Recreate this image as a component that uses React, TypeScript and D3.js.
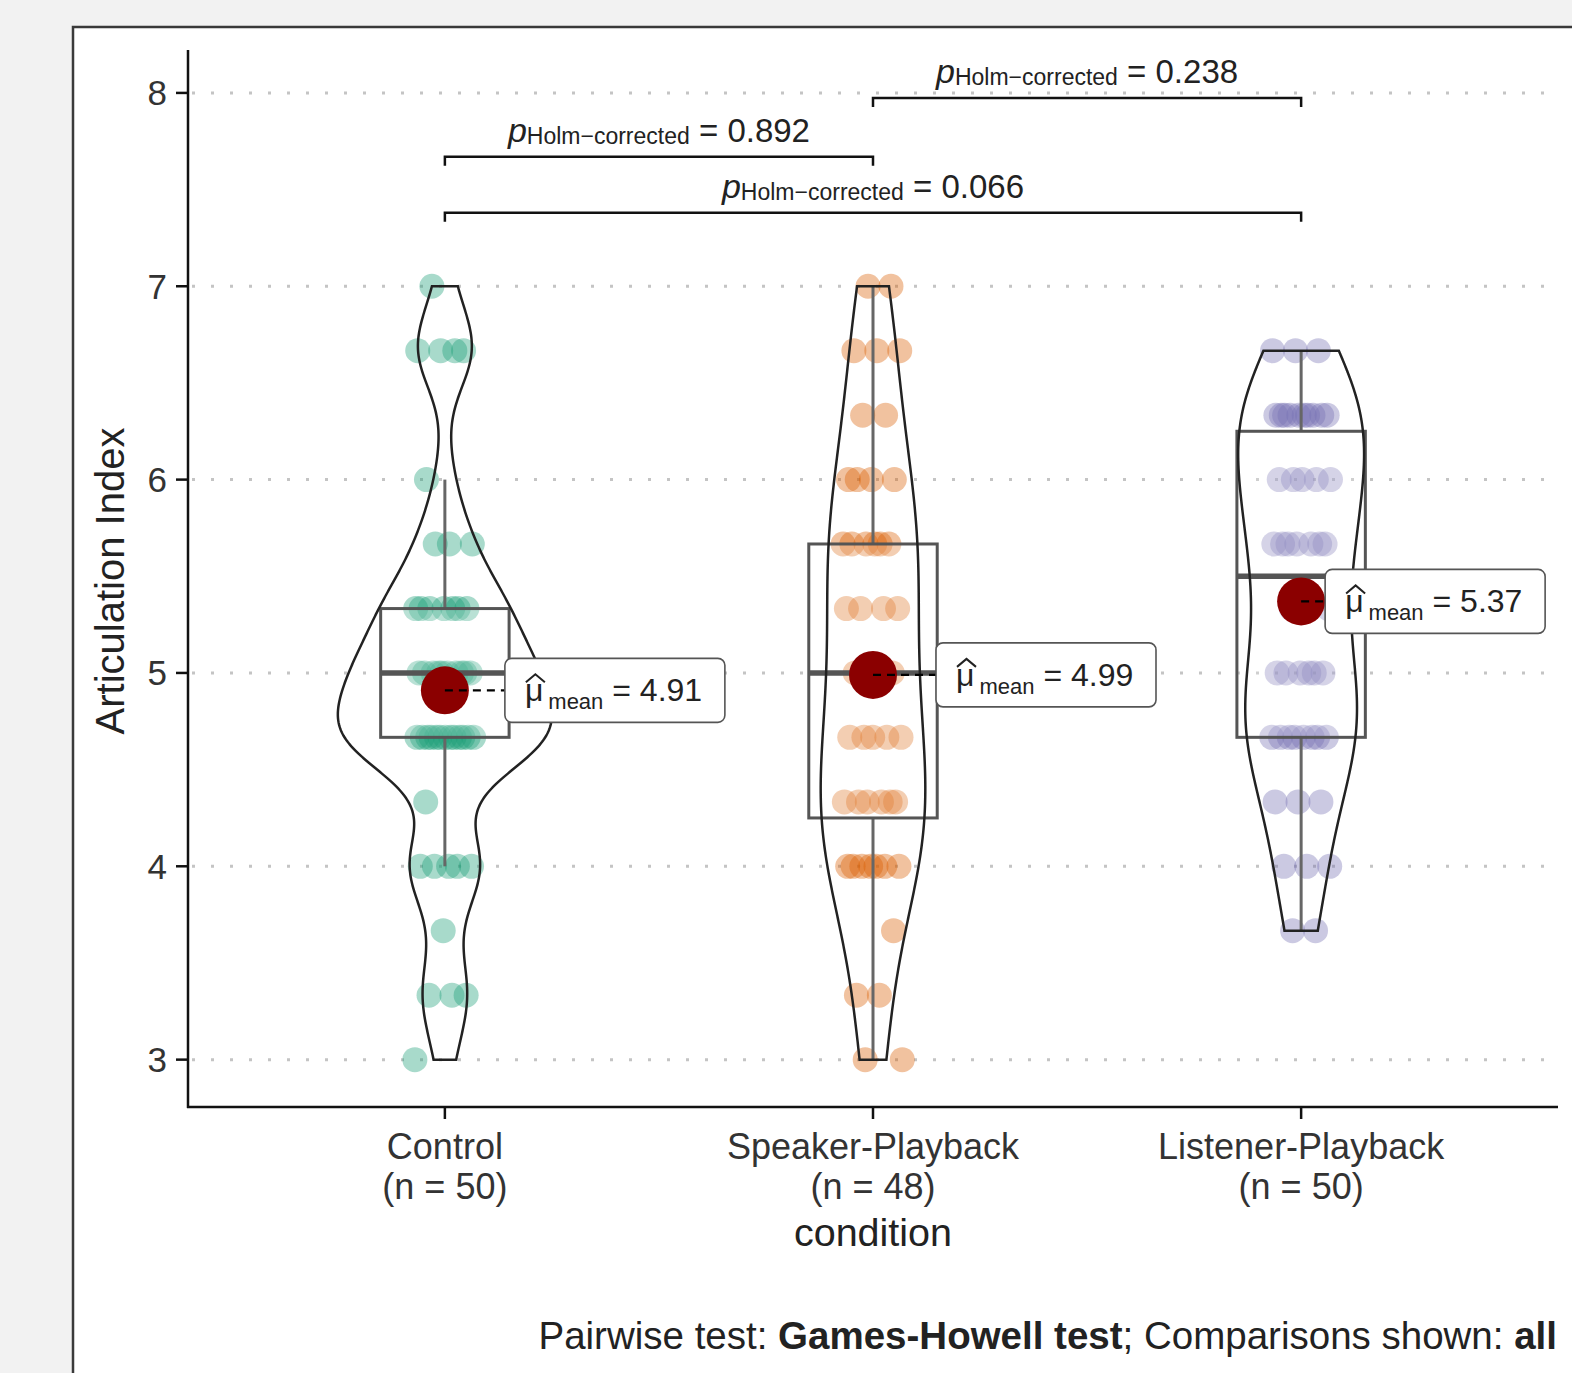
import React from 'react';
import * as d3 from 'd3';

const groups = ['Control', 'Speaker-Playback', 'Listener-Playback'];
const groupN = [50, 48, 50];
const colors = ['#1B9E77', '#D95F02', '#7570B3'];

// articulation index comes in steps of 1/3
const levels = [3, 3.333, 3.667, 4, 4.333, 4.667, 5, 5.333, 5.667, 6, 6.333, 6.667, 7];
const controlCounts = [1, 3, 1, 5, 1, 13, 10, 7, 3, 1, 0, 4, 1];
const speakerCounts = [2, 2, 1, 7, 6, 5, 4, 4, 6, 4, 2, 3, 2];
const listenerCounts = [0, 0, 2, 3, 3, 8, 6, 3, 7, 5, 10, 3, 0];

// boxplot stats
const boxLower = [4.667, 4.25, 4.667];
const boxMedian = [5, 5, 5.5];
const boxUpper = [5.333, 5.667, 6.25];
const whiskerLow = [4, 3, 3.667];
const whiskerHigh = [6, 7, 6.667];
const means = [4.91, 4.99, 5.37];

const pairs = [[0, 1], [1, 2], [0, 2]];
const pValues = ['0.892', '0.238', '0.066'];
const yTicks = [3, 4, 5, 6, 7, 8];

// layout
const bracketAt = [7.67, 7.974, 7.38];
const labelDx = [60, 63, 24];

const W = 1572;
const H = 1373;
const FONT = "'Liberation Sans', Arial, Helvetica, sans-serif";

const expand = (counts: number[]) => levels.flatMap((v, i) => Array(counts[i]).fill(v));
const groupValues = [expand(controlCounts), expand(speakerCounts), expand(listenerCounts)];

const bwNrd0 = (vals: number[]) => {
  const sd = d3.deviation(vals) as number;
  const iqr = (d3.quantile(vals, 0.75) as number) - (d3.quantile(vals, 0.25) as number);
  return 0.9 * Math.min(sd, iqr / 1.34) * Math.pow(vals.length, -0.2);
};

const kde = (vals: number[]) => {
  const bw = bwNrd0(vals);
  const lo = d3.min(vals) as number;
  const hi = d3.max(vals) as number;
  return d3.range(512).map((i) => {
    const t = lo + ((hi - lo) * i) / 511;
    const d = d3.sum(vals, (v) => Math.exp(-0.5 * ((t - v) / bw) ** 2)) / (vals.length * bw * Math.sqrt(2 * Math.PI));
    return [t, d] as [number, number];
  });
};

export default function App() {
  const x = d3.scalePoint<string>().domain(groups).range([188, 1558]).padding(0.6);
  const step = x.step();
  const y = d3.scaleLinear().domain([2.755, 8.222]).range([1107, 50]);

  const dens = groupValues.map(kde);
  const maxD = d3.max(dens.flat(), (d) => d[1]) as number;
  const halfW = 0.25 * step;

  const boxHalf = 0.15 * step;

  return (
    <svg width={W} height={H} style={{ position: 'absolute', left: 0, top: 0, fontFamily: FONT }}>
      <rect x={0} y={0} width={W} height={H} fill="#f2f2f2" />
      <rect x={73} y={27} width={1600} height={1400} fill="#ffffff" stroke="#3a3a3a" strokeWidth={2.5} />

      {/* grid */}
      {yTicks.map((t) => (
        <line key={t} x1={192} x2={1558} y1={y(t)} y2={y(t)} stroke="#c4c4c4" strokeWidth={3} strokeDasharray="3 16" />
      ))}

      {/* jittered points */}
      {groupValues.map((vals, g) => {
        const cx = x(groups[g]) as number;
        return vals.map((v, i) => (
          <circle
            key={`${g}-${i}`}
            cx={cx + (((i * 0.6180339887 + g * 0.37) % 1) - 0.5) * 60}
            cy={y(v)}
            r={12.5}
            fill={colors[g]}
            fillOpacity={0.38}
          />
        ));
      })}

      {/* boxplots */}
      {groups.map((gName, g) => {
        const cx = x(gName) as number;
        return (
          <g key={gName}>
            <line x1={cx} x2={cx} y1={y(boxUpper[g])} y2={y(whiskerHigh[g])} stroke="#666" strokeWidth={3} />
            <line x1={cx} x2={cx} y1={y(boxLower[g])} y2={y(whiskerLow[g])} stroke="#666" strokeWidth={3} />
            <rect
              x={cx - boxHalf}
              y={y(boxUpper[g])}
              width={2 * boxHalf}
              height={y(boxLower[g]) - y(boxUpper[g])}
              fill="#fff"
              fillOpacity={0.2}
              stroke="#555"
              strokeWidth={3}
            />
            <line x1={cx - boxHalf} x2={cx + boxHalf} y1={y(boxMedian[g])} y2={y(boxMedian[g])} stroke="#555" strokeWidth={5.5} />
          </g>
        );
      })}

      {/* violins */}
      {dens.map((dd, g) => {
        const cx = x(groups[g]) as number;
        const area = d3
          .area<[number, number]>()
          .y((d) => y(d[0]))
          .x0((d) => cx - (d[1] / maxD) * halfW)
          .x1((d) => cx + (d[1] / maxD) * halfW);
        return <path key={g} d={area(dd) as string} fill="none" stroke="#222" strokeWidth={2.5} />;
      })}

      {/* pairwise brackets */}
      {pairs.map(([a, b], k) => {
        const xa = x(groups[a]) as number;
        const xb = x(groups[b]) as number;
        const yy = y(bracketAt[k]);
        return (
          <g key={k}>
            <path d={`M${xa},${yy + 9}V${yy}H${xb}V${yy + 9}`} fill="none" stroke="#111" strokeWidth={2.5} />
            <text x={(xa + xb) / 2} y={yy - 15} textAnchor="middle" fill="#222">
              <tspan fontStyle="italic" fontSize={34}>p</tspan>
              <tspan fontSize={23} dy={2}>Holm−corrected</tspan>
              <tspan fontSize={33} dy={-2}> = {pValues[k]}</tspan>
            </text>
          </g>
        );
      })}

      {/* means */}
      {groups.map((gName, g) => {
        const cx = x(gName) as number;
        const ym = y(means[g]);
        const bx = cx + labelDx[g];
        return (
          <g key={gName}>
            <circle cx={cx} cy={ym} r={24} fill="#8B0000" />
            <line x1={cx} x2={bx} y1={ym} y2={ym} stroke="#000" strokeWidth={2.2} strokeDasharray="8 6" />
            <rect x={bx} y={ym - 32} width={220} height={64} rx={7} fill="#fff" stroke="#555" strokeWidth={1.6} />
            <path
              d={`M${bx + 21},${ym - 8}L${bx + 30.5},${ym - 16}L${bx + 40},${ym - 8}`}
              fill="none"
              stroke="#222"
              strokeWidth={2}
            />
            <text x={bx + 20} y={ym + 11} fill="#222" fontSize={32}>
              <tspan>μ</tspan>
              <tspan fontSize={22} dx={5} dy={8}>mean</tspan>
              <tspan dy={-8}> = {means[g].toFixed(2)}</tspan>
            </text>
          </g>
        );
      })}

      {/* axes */}
      <line x1={188} x2={188} y1={50} y2={1108} stroke="#111" strokeWidth={2.5} />
      <line x1={187} x2={1558} y1={1107} y2={1107} stroke="#111" strokeWidth={2.5} />
      {yTicks.map((t) => (
        <g key={t}>
          <line x1={176} x2={188} y1={y(t)} y2={y(t)} stroke="#111" strokeWidth={2.5} />
          <text x={167} y={y(t) + 12.5} textAnchor="end" fontSize={35} fill="#333">{t}</text>
        </g>
      ))}
      {groups.map((gName, g) => {
        const cx = x(gName) as number;
        return (
          <g key={gName}>
            <line x1={cx} x2={cx} y1={1107} y2={1119} stroke="#111" strokeWidth={2.5} />
            <text x={cx} y={1159} textAnchor="middle" fontSize={36} fill="#333">{gName}</text>
            <text x={cx} y={1199} textAnchor="middle" fontSize={36} fill="#333">(n = {groupN[g]})</text>
          </g>
        );
      })}

      <text x={873} y={1246} textAnchor="middle" fontSize={39.5} fill="#222">condition</text>
      <text transform="translate(124,581) rotate(-90)" textAnchor="middle" fontSize={40} fill="#222">Articulation Index</text>

      <text x={1557} y={1349} textAnchor="end" fontSize={38.5} fill="#222">
        Pairwise test: <tspan fontWeight="bold">Games-Howell test</tspan>; Comparisons shown: <tspan fontWeight="bold">all</tspan>
      </text>
    </svg>
  );
}
